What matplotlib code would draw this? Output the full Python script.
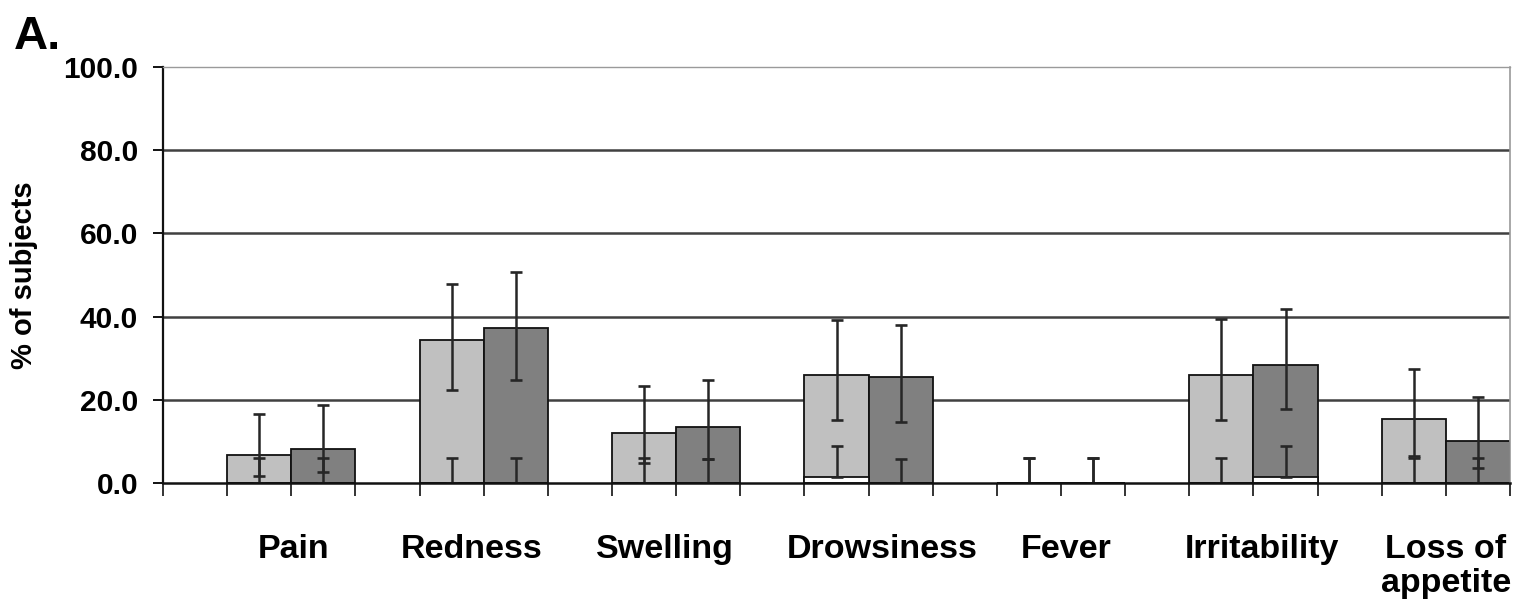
import numpy as np
import matplotlib
matplotlib.use('Agg')
import matplotlib.pyplot as plt
import matplotlib.transforms as mtransforms

plt.rcParams['font.family'] = ['Liberation Sans', 'DejaVu Sans']
plt.rcParams['font.weight'] = 'bold'

# Data
categories = ['Pain', 'Redness', 'Swelling', 'Drowsiness', 'Fever', 'Irritability', 'Loss of\nappetite']

light = [6.9, 34.5, 12.1, 25.9, 0.0, 25.9, 15.5]
light_lo = [1.8, 22.4, 4.8, 15.2, 0.0, 15.2, 6.6]
light_hi = [16.7, 47.9, 23.3, 39.2, 6.0, 39.4, 27.5]

dark = [8.3, 37.3, 13.6, 25.4, 0.0, 28.5, 10.1]
dark_lo = [2.8, 24.9, 5.8, 14.8, 0.0, 17.8, 3.7]
dark_hi = [18.7, 50.8, 24.9, 38.1, 6.0, 41.9, 20.7]

white_light = [0.0, 0.0, 0.0, 1.5, 0.0, 0.0, 0.0]
white_light_hi = [6.1, 6.0, 6.0, 9.0, 6.0, 6.0, 6.0]
white_dark = [0.0, 0.0, 0.0, 0.0, 0.0, 1.5, 0.0]
white_dark_hi = [6.0, 6.0, 5.9, 5.9, 6.0, 9.0, 6.1]

yticks = [0, 20, 40, 60, 80, 100]

# small shifts of the category labels, as placed in the original
label_shift = [0.03, -0.19, -0.18, 0.21, 0.08, 0.14, 0.0]

n = len(categories)
idx = np.arange(n)
x_light = 3 * idx + 1.5
x_dark = 3 * idx + 2.5
x_label = 3 * idx + 2 + np.array(label_shift)

fig = plt.figure(figsize=(15.15, 6.05), dpi=100)
ax = fig.add_axes([163 / 1515, 1 - 483.3 / 605, 1347 / 1515, 416.6 / 605])

# gridlines
for v in yticks[1:-1]:
    ax.axhline(v, color='#404040', lw=1.8, zorder=0.5)

bar_kw = dict(width=1.0, edgecolor='#111111', linewidth=1.3)
ax.bar(x_light, light, color='#c0c0c0', zorder=2, **bar_kw)
ax.bar(x_dark, dark, color='#808080', zorder=2, **bar_kw)
ax.bar(x_light, white_light, color='white', zorder=3, **bar_kw)
ax.bar(x_dark, white_dark, color='white', zorder=3, **bar_kw)

err_kw = dict(fmt='none', ecolor='#262626', elinewidth=1.8, capsize=4.5, capthick=1.9, zorder=4)

def draw_err(xs, vals, lo, hi):
    vals = np.array(vals)
    yerr = np.vstack([vals - np.array(lo), np.array(hi) - vals])
    ax.errorbar(xs, vals, yerr=yerr, **err_kw)

draw_err(x_light, white_light, white_light, white_light_hi)
draw_err(x_dark, white_dark, white_dark, white_dark_hi)
draw_err(x_light, light, light_lo, light_hi)
draw_err(x_dark, dark, dark_lo, dark_hi)

ax.set_xlim(0, 3 * n)
ax.set_ylim(0, 100)

ax.spines['left'].set_color('#111111')
ax.spines['left'].set_linewidth(1.6)
ax.spines['bottom'].set_color('#111111')
ax.spines['bottom'].set_linewidth(1.8)
ax.spines['top'].set_color('#9a9a9a')
ax.spines['top'].set_linewidth(1.0)
ax.spines['right'].set_color('#9a9a9a')
ax.spines['right'].set_linewidth(1.2)
for s in ax.spines.values():
    s.set_zorder(5)

ax.set_yticks(yticks)
ax.set_yticklabels([f'{v:.1f}' for v in yticks], fontsize=21.5, fontweight='bold')
ax.tick_params(axis='y', direction='out', length=7.5, width=1.4, pad=10.5, color='#111111')

ax.set_xticks(np.arange(0, 3 * n + 1))
ax.set_xticklabels([])
ax.tick_params(axis='x', which='major', direction='out', length=9, width=1.2, color='#111111')

# category labels sit near the boundary between the two bars of each group
trans = mtransforms.blended_transform_factory(ax.transData, ax.transAxes)
label_y = (483.3 - 534) / 416.6
for xl, name in zip(x_label, categories):
    ax.text(xl, label_y, name, transform=trans, ha='center', va='top', fontsize=24.5,
            fontweight='bold', linespacing=1.12, clip_on=False)

fig.text(24 / 1515, 1 - 275 / 605, '% of subjects', rotation=90, ha='center', va='center',
         fontsize=21, fontweight='bold')
fig.text(14 / 1515, 1 - 49 / 605, 'A.', ha='left', va='baseline', fontsize=34, fontweight='bold')

fig.savefig('out.png', dpi=100)
